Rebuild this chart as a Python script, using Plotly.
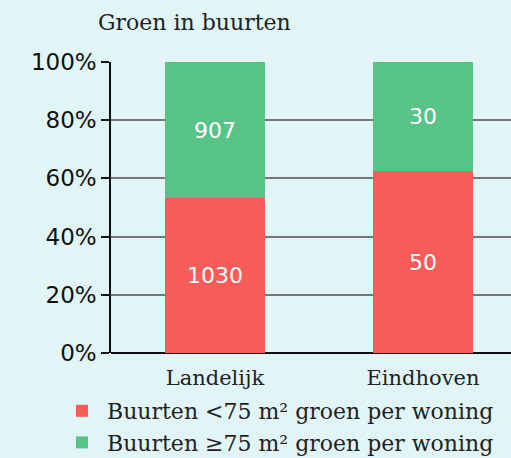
import plotly.graph_objects as go

categories = ['Landelijk', 'Eindhoven']
laag_groen = [1030, 50]   # buurten < 75 m2 groen per woning
hoog_groen = [907, 30]    # buurten >= 75 m2 groen per woning
series_names = ['Buurten <75 m² groen per woning', 'Buurten ≥75 m² groen per woning']
tick_vals = [0, 20, 40, 60, 80, 100]
tick_text = ['0%', '20%', '40%', '60%', '80%', '100%']

totals = [a + b for a, b in zip(laag_groen, hoog_groen)]
pct_laag = [a / t * 100 for a, t in zip(laag_groen, totals)]
pct_hoog = [b / t * 100 for b, t in zip(hoog_groen, totals)]

bg = '#e1f5f7'
serif = 'DejaVu Serif'
sans = 'DejaVu Sans'

fig = go.Figure()
fig.add_trace(go.Bar(x=categories, y=pct_laag, name=series_names[0],
                     marker=dict(color='#f75c58', line=dict(width=0)),
                     text=[str(v) for v in laag_groen], textposition='inside',
                     insidetextanchor='middle',
                     textfont=dict(color='white', size=22, family=sans)))
fig.add_trace(go.Bar(x=categories, y=pct_hoog, name=series_names[1],
                     marker=dict(color='#58c386', line=dict(width=0)),
                     text=[str(v) for v in hoog_groen], textposition='inside',
                     insidetextanchor='middle',
                     textfont=dict(color='white', size=22, family=sans)))

fig.update_layout(
    width=511, height=458,
    barmode='stack', bargap=0.52,
    paper_bgcolor=bg, plot_bgcolor=bg,
    margin=dict(l=111, r=0, t=62, b=38),
    title=dict(text='Groen in buurten', x=98 / 511, xref='container', xanchor='left',
               y=1 - 22 / 458, yref='container', yanchor='middle',
               font=dict(family=serif, size=22, color='#222')),
    legend=dict(orientation='v', x=-0.135, xanchor='left',
                y=1 - 390 / 458, yref='container', yanchor='top',
                traceorder='normal', font=dict(family=serif, size=22, color='#222'),
                bgcolor='rgba(0,0,0,0)', itemwidth=40, tracegroupgap=0),
    showlegend=True,
)
fig.update_xaxes(range=[-0.5, 1.423], showgrid=False, showline=False, ticks='',
                 ticklabelstandoff=10,
                 tickfont=dict(family=serif, size=21, color='#222'), fixedrange=True)
fig.update_yaxes(range=[0, 100], tickvals=tick_vals, ticktext=tick_text,
                 showgrid=True, gridcolor='#777', gridwidth=1.5,
                 showline=True, linecolor='#111', linewidth=1.5,
                 ticks='outside', ticklen=8, tickcolor='#111', tickwidth=1.5,
                 ticklabelstandoff=0,
                 zeroline=True, zerolinecolor='#111', zerolinewidth=2,
                 tickfont=dict(family=sans, size=23, color='#111'), fixedrange=True)

# drop the default page margin so the figure sits at the window corner
fig.write_html('out.html', config={'displayModeBar': False},
               post_script="document.body.style.margin='0';")
